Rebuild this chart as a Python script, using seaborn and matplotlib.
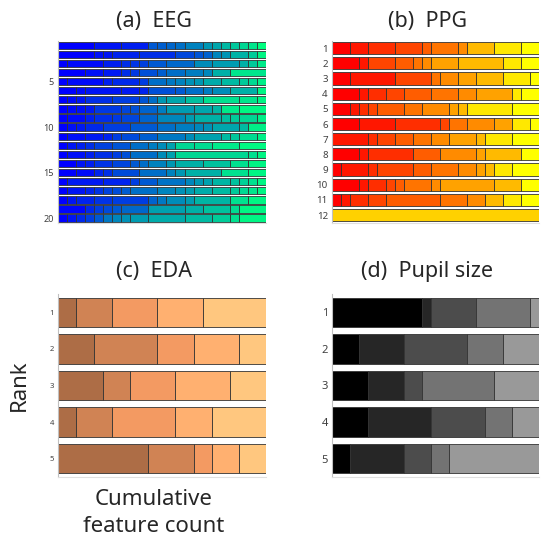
import numpy as np
import matplotlib
matplotlib.use('Agg')
import matplotlib.pyplot as plt
import seaborn as sns

# segment widths (feature counts) per rank, and colour level of each segment
eeg_widths = [
    [4, 3, 3, 1, 1, 1, 1, 2, 1, 1, 1, 1, 1, 1, 1],
    [4, 1, 1, 3, 4, 2, 1, 1, 1, 1, 2, 1, 1],
    [1, 4, 2, 1, 1, 1, 2, 3, 2, 3, 1, 1, 1],
    [3, 2, 2, 1, 1, 2, 1, 2, 2, 1, 2, 4],
    [1, 4, 1, 3, 1, 2, 1, 1, 1, 1, 2, 2, 1, 1, 1],
    [2, 1, 4, 2, 1, 3, 1, 2, 1, 2, 3, 1],
    [1, 1, 1, 3, 3, 1, 1, 1, 2, 2, 4, 2, 1],
    [1, 1, 1, 1, 3, 1, 1, 2, 1, 3, 2, 1, 2, 3],
    [1, 2, 1, 2, 1, 2, 2, 3, 1, 3, 1, 1, 2, 1],
    [1, 1, 1, 2, 3, 3, 2, 2, 1, 1, 3, 1, 2],
    [1, 2, 2, 1, 1, 2, 2, 3, 1, 3, 1, 1, 2, 1],
    [1, 1, 1, 1, 2, 2, 2, 1, 1, 1, 2, 2, 3, 3],
    [1, 2, 1, 2, 1, 1, 3, 1, 1, 8, 1, 1],
    [2, 1, 1, 2, 2, 1, 1, 2, 1, 3, 3, 2, 2],
    [2, 2, 1, 1, 3, 3, 1, 1, 4, 3, 2],
    [1, 4, 3, 1, 2, 3, 1, 1, 1, 2, 1, 1, 1, 1],
    [1, 2, 1, 1, 1, 1, 1, 3, 2, 1, 1, 2, 2, 1, 1, 1, 1],
    [1, 1, 2, 2, 4, 1, 1, 2, 1, 4, 2, 2],
    [3, 1, 1, 1, 1, 3, 4, 2, 3, 1, 3],
    [1, 1, 1, 1, 1, 1, 1, 1, 2, 4, 3, 2, 1, 3],
]
# winter colormap level in percent
eeg_levels = [
    [0, 8, 12, 35, 37, 40, 44, 51, 59, 65, 72, 78, 84, 90, 100],
    [0, 6, 8, 14, 18, 28, 33, 38, 52, 58, 70, 80, 96],
    [0, 4, 12, 18, 21, 25, 35, 41, 55, 61, 69, 79, 92],
    [0, 6, 10, 18, 22, 31, 37, 43, 49, 53, 69, 90],
    [0, 4, 12, 16, 24, 43, 47, 51, 57, 59, 67, 73, 79, 85, 93],
    [0, 4, 8, 10, 14, 31, 35, 43, 49, 55, 69, 96],
    [0, 4, 8, 18, 24, 33, 43, 59, 65, 75, 88, 90, 96],
    [0, 4, 6, 10, 22, 27, 31, 39, 49, 61, 65, 71, 92, 97],
    [0, 4, 12, 18, 22, 27, 39, 53, 61, 69, 75, 79, 84, 94],
    [0, 6, 10, 16, 24, 35, 43, 49, 53, 57, 65, 73, 94],
    [0, 6, 10, 14, 24, 29, 37, 47, 55, 63, 73, 78, 86, 94],
    [0, 8, 12, 18, 25, 33, 43, 49, 55, 63, 84, 86, 92, 98],
    [0, 6, 12, 18, 24, 31, 43, 55, 63, 84, 88, 96],
    [0, 8, 12, 20, 27, 35, 43, 51, 59, 69, 76, 88, 96],
    [0, 4, 14, 18, 29, 43, 51, 59, 69, 88, 96],
    [0, 10, 14, 24, 35, 45, 53, 59, 63, 71, 76, 82, 88, 96],
    [0, 8, 14, 20, 26, 30, 36, 44, 52, 57, 61, 67, 73, 79, 85, 90, 96],
    [0, 8, 14, 20, 24, 39, 47, 55, 61, 71, 88, 96],
    [2, 16, 24, 29, 35, 41, 63, 69, 76, 86, 96],
    [0, 8, 16, 24, 35, 47, 53, 57, 61, 67, 73, 80, 88, 96],
]

ppg_widths = [
    [2, 2, 3, 3, 1, 3, 1, 3, 3, 2],
    [3, 1, 3, 2, 1, 1, 3, 5, 2, 2],
    [2, 5, 4, 1, 2, 2, 3, 3, 1],
    [3, 1, 2, 2, 3, 3, 2, 4, 1, 2],
    [2, 1, 1, 1, 3, 2, 3, 1, 1, 5, 3],
    [3, 4, 5, 1, 2, 3, 2, 2, 1],
    [4, 1, 2, 2, 2, 2, 3, 1, 3, 3],
    [3, 1, 5, 3, 4, 1, 4, 2],
    [1, 3, 1, 4, 2, 3, 2, 1, 1, 2, 3],
    [3, 1, 2, 1, 1, 3, 1, 6, 3, 2],
    [1, 1, 2, 2, 6, 3, 2, 2, 2, 2],
    [23],
]
# feature index (0-11) of each segment
ppg_ids = [
    [0, 1, 2, 3, 4, 5, 6, 8, 10, 11],
    [0, 1, 3, 4, 5, 6, 7, 8, 10, 11],
    [0, 1, 3, 5, 6, 7, 8, 10, 11],
    [0, 1, 2, 3, 4, 5, 6, 7, 10, 11],
    [0, 1, 2, 3, 4, 5, 6, 7, 8, 10, 11],
    [0, 1, 2, 3, 5, 6, 7, 10, 11],
    [1, 2, 3, 4, 5, 6, 7, 8, 10, 11],
    [0, 1, 2, 4, 6, 7, 8, 11],
    [0, 1, 2, 3, 4, 5, 6, 7, 8, 10, 11],
    [0, 1, 2, 3, 4, 5, 6, 7, 8, 11],
    [0, 1, 2, 3, 4, 5, 6, 8, 10, 11],
    [9],
]

eda_widths = [
    [2, 4, 5, 5, 7],
    [4, 7, 4, 5, 3],
    [5, 3, 5, 6, 4],
    [2, 4, 7, 4, 6],
    [10, 5, 2, 3, 3],
]
eda_ids = [[0, 1, 2, 3, 4]] * 5

pupil_widths = [
    [10, 1, 5, 6, 1],
    [3, 5, 7, 4, 4],
    [4, 4, 2, 8, 5],
    [4, 7, 6, 3, 3],
    [2, 6, 3, 2, 10],
]
pupil_ids = [[0, 1, 2, 3, 4]] * 5

eeg_ticks = [5, 10, 15, 20]
ppg_ticks = list(range(1, 13))
eda_ticks = [1, 2, 3, 4, 5]
pupil_ticks = [1, 2, 3, 4, 5]
total = 23

sns.set_style('white')
plt.rcParams['font.family'] = ['Noto Sans', 'DejaVu Sans']

winter = sns.color_palette('winter', as_cmap=True)
autumn = sns.color_palette('autumn', as_cmap=True)
copper = sns.color_palette('copper', as_cmap=True)
gray = plt.get_cmap('gray')

eda_shades = [0.55, 0.66, 0.77, 0.88, 1.0]
pupil_shades = [0.0, 0.15, 0.30, 0.45, 0.60]


def stacked(ax, widths, colors_per_row, ticks, tick_size, title, pad):
    for r, (ws, cols) in enumerate(zip(widths, colors_per_row), start=1):
        left = np.concatenate([[0], np.cumsum(ws)[:-1]])
        ax.barh([r] * len(ws), ws, left=left, height=0.8, color=cols,
                edgecolor='#333333', linewidth=0.6)
    n = len(widths)
    ax.set_xlim(0, total)
    ax.set_ylim(n + 0.5, 0.5)
    ax.set_yticks(ticks)
    ax.set_yticklabels([str(t) for t in ticks], fontsize=tick_size, color='#404040')
    ax.set_xticks([])
    ax.tick_params(axis='y', length=0, pad=3)
    ax.set_title(title, fontsize=15.5, pad=pad, x=0.46)
    sns.despine(ax=ax)
    ax.spines['left'].set_color('#c0c0c0')
    ax.spines['bottom'].set_color('#e0e0e0')
    ax.spines['left'].set_linewidth(0.8)
    ax.spines['bottom'].set_linewidth(0.8)


fig = plt.figure(figsize=(5.5, 5.47), dpi=100)
ax1 = fig.add_axes([0.106, 0.593, 0.377, 0.3327])
ax2 = fig.add_axes([0.6036, 0.593, 0.377, 0.3327])
ax3 = fig.add_axes([0.106, 0.128, 0.377, 0.3345])
ax4 = fig.add_axes([0.6036, 0.128, 0.377, 0.3345])

eeg_cols = [winter(np.array(l) / 100) for l in eeg_levels]
ppg_cols = [autumn(np.array(i) / 11) for i in ppg_ids]
eda_cols = [copper(np.array(eda_shades)[i]) for i in eda_ids]
pupil_cols = [gray(np.array(pupil_shades)[i]) for i in pupil_ids]

stacked(ax1, eeg_widths, eeg_cols, eeg_ticks, 6.5, '(a)  EEG', 9.5)
stacked(ax2, ppg_widths, ppg_cols, ppg_ticks, 7, '(b)  PPG', 9.5)
stacked(ax3, eda_widths, eda_cols, eda_ticks, 5.5, '(c)  EDA', 12)
stacked(ax4, pupil_widths, pupil_cols, pupil_ticks, 8, '(d)  Pupil size', 12)

ax3.set_ylabel('Rank', fontsize=16)
ax3.yaxis.set_label_coords(-0.135, 0.5)
ax3.set_xlabel('Cumulative\nfeature count', fontsize=16, linespacing=1.35)
ax3.xaxis.set_label_coords(0.459, -0.068)

fig.savefig('out.png', dpi=100, facecolor='white')
